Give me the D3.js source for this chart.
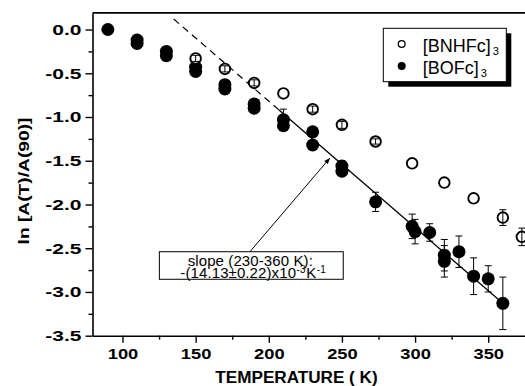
<!DOCTYPE html>
<html>
<head>
<meta charset="utf-8">
<script src="https://cdn.jsdelivr.net/npm/d3@7"></script>
<style>
body { margin: 0; background: #fff; }
svg { display: block; }
text { font-family: "Liberation Sans", Arial, Helvetica, sans-serif; fill: #000; }
</style>
</head>
<body>
<svg id="chart" width="525" height="386"></svg>
<script>
// [BOFc]3 (filled circles)
var tempBOFc = [90, 110, 110, 130, 130, 150, 150, 170, 170, 190, 190, 210, 210, 230, 230, 250, 250, 273, 298, 300, 310, 320, 320, 330, 340, 350, 360];
var lnBOFc   = [0, -0.12, -0.16, -0.25, -0.30, -0.43, -0.48, -0.63, -0.68, -0.85, -0.90, -1.03, -1.10, -1.17, -1.32, -1.56, -1.62, -1.97, -2.25, -2.31, -2.32, -2.58, -2.65, -2.54, -2.82, -2.85, -3.13];
var errBOFc  = [0, 0, 0, 0, 0, 0, 0, 0, 0, 0, 0, 0.12, 0, 0, 0, 0.06, 0, 0.11, 0.14, 0.14, 0.10, 0.18, 0.18, 0.18, 0.21, 0.15, 0.30];

// [BNHFc]3 (open circles)
var tempBNHFc = [150, 170, 190, 210, 230, 250, 273, 298, 320, 340, 360, 373];
var lnBNHFc   = [-0.33, -0.45, -0.61, -0.73, -0.91, -1.09, -1.28, -1.53, -1.75, -1.93, -2.15, -2.37];
var errBNHFc  = [0.035, 0.035, 0.035, 0, 0.035, 0.04, 0.03, 0, 0, 0, 0.09, 0.10];

// linear fit: dashed part then solid part (230-360 K)
var fitT  = [135, 207, 360];
var fitLn = [0.12, -0.92, -3.13];

// ticks
var xMajor = [100, 150, 200, 250, 300, 350];
var xMinor = [125, 175, 225, 275, 325];
var yMajor = [0, -0.5, -1.0, -1.5, -2.0, -2.5, -3.0, -3.5];
var yMinor = [-0.25, -0.75, -1.25, -1.75, -2.25, -2.75, -3.25];

var svg = d3.select("#chart");

var x = d3.scaleLinear().domain([79.5, 375]).range([92.5, 524.8]);
var y = d3.scaleLinear().domain([-3.5, 0.19]).range([335.7, 12.9]);

// stretch glyphs horizontally, the original lettering is wide
function stretch(sel, k) {
    sel.each(function() {
        var w = this.getComputedTextLength();
        d3.select(this).attr("textLength", w * k).attr("lengthAdjust", "spacingAndGlyphs");
    });
}

// top frame line
svg.append("line")
    .attr("x1", x(79.5)).attr("x2", x(375) + 2)
    .attr("y1", y(0.19)).attr("y2", y(0.19))
    .attr("stroke", "#000").attr("stroke-width", 1.6);

// x axis
svg.append("g")
    .attr("transform", "translate(0," + y(-3.5) + ")")
    .call(d3.axisBottom(x).tickValues(xMinor).tickSize(4).tickSizeOuter(0).tickFormat(""))
    .call(g => g.select(".domain").remove())
    .selectAll("line").attr("stroke-width", 1.4);

var xAxis = svg.append("g")
    .attr("transform", "translate(0," + y(-3.5) + ")")
    .call(d3.axisBottom(x).tickValues(xMajor).tickSize(7).tickSizeOuter(0).tickPadding(6).tickFormat(d => d));
xAxis.select(".domain").attr("stroke-width", 1.6);
xAxis.selectAll("line").attr("stroke-width", 1.4);
xAxis.selectAll("text")
    .style("font-family", "'Liberation Sans', Arial, sans-serif")
    .style("font-size", "15px").style("font-weight", "bold")
    .call(stretch, 1.22);

// y axis
svg.append("g")
    .attr("transform", "translate(" + x(79.5) + ",0)")
    .call(d3.axisLeft(y).tickValues(yMinor).tickSize(4).tickSizeOuter(0).tickFormat(""))
    .call(g => g.select(".domain").remove())
    .selectAll("line").attr("stroke-width", 1.4);

var yAxis = svg.append("g")
    .attr("transform", "translate(" + x(79.5) + ",0)")
    .call(d3.axisLeft(y).tickValues(yMajor).tickSize(7).tickSizeOuter(0).tickPadding(4).tickFormat(d => d.toFixed(1)));
yAxis.select(".domain").attr("stroke-width", 1.6);
yAxis.selectAll("line").attr("stroke-width", 1.4);
yAxis.selectAll("text")
    .style("font-family", "'Liberation Sans', Arial, sans-serif")
    .style("font-size", "15px").style("font-weight", "bold")
    .call(stretch, 1.4);

// axis titles
svg.append("text")
    .attr("x", 296.5).attr("y", 383)
    .attr("text-anchor", "middle")
    .style("font-size", "16px").style("font-weight", "bold")
    .text("TEMPERATURE ( K)")
    .call(stretch, 1.07);

svg.append("text")
    .attr("transform", "translate(28.5,181) rotate(-90)")
    .attr("text-anchor", "middle")
    .style("font-size", "15px").style("font-weight", "bold")
    .text("ln [A(T)/A(90)]")
    .call(stretch, 1.28);

// fit line
svg.append("line")
    .attr("x1", x(fitT[0])).attr("y1", y(fitLn[0]))
    .attr("x2", x(fitT[1])).attr("y2", y(fitLn[1]))
    .attr("stroke", "#000").attr("stroke-width", 1.2)
    .attr("stroke-dasharray", "7,5");
svg.append("line")
    .attr("x1", x(fitT[1])).attr("y1", y(fitLn[1]))
    .attr("x2", x(fitT[2])).attr("y2", y(fitLn[2]))
    .attr("stroke", "#000").attr("stroke-width", 1.3);

var bofc = tempBOFc.map((t, i) => ({t: t, v: lnBOFc[i], e: errBOFc[i]}));
var bnhfc = tempBNHFc.map((t, i) => ({t: t, v: lnBNHFc[i], e: errBNHFc[i]}));

function errorBars(g, data) {
    var eb = g.selectAll("g.eb").data(data.filter(d => d.e > 0)).enter().append("g")
        .attr("stroke", "#000").attr("stroke-width", 1);
    eb.append("line")
        .attr("x1", d => x(d.t)).attr("x2", d => x(d.t))
        .attr("y1", d => y(d.v + d.e)).attr("y2", d => y(d.v - d.e));
    eb.append("line")
        .attr("x1", d => x(d.t) - 3.5).attr("x2", d => x(d.t) + 3.5)
        .attr("y1", d => y(d.v + d.e)).attr("y2", d => y(d.v + d.e));
    eb.append("line")
        .attr("x1", d => x(d.t) - 3.5).attr("x2", d => x(d.t) + 3.5)
        .attr("y1", d => y(d.v - d.e)).attr("y2", d => y(d.v - d.e));
}

// filled points
var gF = svg.append("g");
errorBars(gF, bofc);
gF.selectAll("circle").data(bofc).enter().append("circle")
    .attr("cx", d => x(d.t)).attr("cy", d => y(d.v))
    .attr("r", 6.5).attr("fill", "#000");

// open points
var gO = svg.append("g");
gO.selectAll("circle").data(bnhfc).enter().append("circle")
    .attr("cx", d => x(d.t)).attr("cy", d => y(d.v))
    .attr("r", 5.3).attr("fill", "#fff").attr("stroke", "#000").attr("stroke-width", 1.9);
errorBars(gO, bnhfc);

// annotation box + arrow
var annT = [125.2, 250.9], annV = [-2.54, -2.855];
var arrowFrom = [187.1, -2.54], arrowTo = [241.8, -1.469];

svg.append("defs").append("marker")
    .attr("id", "ah").attr("viewBox", "0 0 10 10")
    .attr("refX", 10).attr("refY", 5)
    .attr("markerWidth", 7).attr("markerHeight", 6)
    .attr("markerUnits", "userSpaceOnUse")
    .attr("orient", "auto")
    .append("path").attr("d", "M0,1 L10,5 L0,9 Z").attr("fill", "#000");

svg.append("line")
    .attr("x1", x(arrowFrom[0])).attr("y1", y(arrowFrom[1]))
    .attr("x2", x(arrowTo[0])).attr("y2", y(arrowTo[1]))
    .attr("stroke", "#000").attr("stroke-width", 1)
    .attr("marker-end", "url(#ah)");

svg.append("rect")
    .attr("x", x(annT[0])).attr("y", y(annV[0]))
    .attr("width", x(annT[1]) - x(annT[0])).attr("height", y(annV[1]) - y(annV[0]))
    .attr("fill", "#fff").attr("stroke", "#000").attr("stroke-width", 1);

var boxCx = (x(annT[0]) + x(annT[1])) / 2;
svg.append("text")
    .attr("x", boxCx - 1).attr("y", y(annV[0]) + 14)
    .attr("text-anchor", "middle")
    .style("font-size", "15px").style("letter-spacing", "0.1px")
    .text("slope (230-360 K):");

// second line built piece by piece so the superscripts sit next to their base
var l2x = x(annT[0]) + 21, l2y = y(annV[0]) + 26.3;
var l2parts = [["-(14.13\u00b10.22)x10", 15, 0], ["-3", 10, -5.5], [" K", 15, 0], ["-1", 10, -5.5]];
l2parts.forEach(function(p) {
    var t = svg.append("text")
        .attr("x", l2x).attr("y", l2y + p[2])
        .style("font-size", p[1] + "px").style("letter-spacing", "0.1px")
        .text(p[0]);
    l2x += t.node().getComputedTextLength() + 0.5;
});

// legend
var lg = svg.append("g").attr("transform", "translate(383.3,28.3)");
lg.append("rect").attr("x", 5).attr("y", 5).attr("width", 123).attr("height", 53.4).attr("fill", "#000");
lg.append("rect").attr("x", 0).attr("y", 0).attr("width", 123).attr("height", 53.4)
    .attr("fill", "#fff").attr("stroke", "#000").attr("stroke-width", 1);

var legendNames = ["[BNHFc]", "[BOFc]"];
var legendOpen = [true, false];
legendNames.forEach(function(name, i) {
    var cy = 15.7 + i * 22;
    lg.append("circle")
        .attr("cx", 18.4).attr("cy", cy).attr("r", legendOpen[i] ? 3.4 : 4)
        .attr("fill", legendOpen[i] ? "#fff" : "#000")
        .attr("stroke", "#000").attr("stroke-width", legendOpen[i] ? 1.3 : 0);
    var t = lg.append("text").attr("x", 39.4).attr("y", cy + 8.5).style("font-size", "18px").text(name);
    lg.append("text")
        .attr("x", 39.4 + t.node().getComputedTextLength() + 2).attr("y", cy + 11.5)
        .style("font-size", "11px").text("3");
});
</script>
</body>
</html>
